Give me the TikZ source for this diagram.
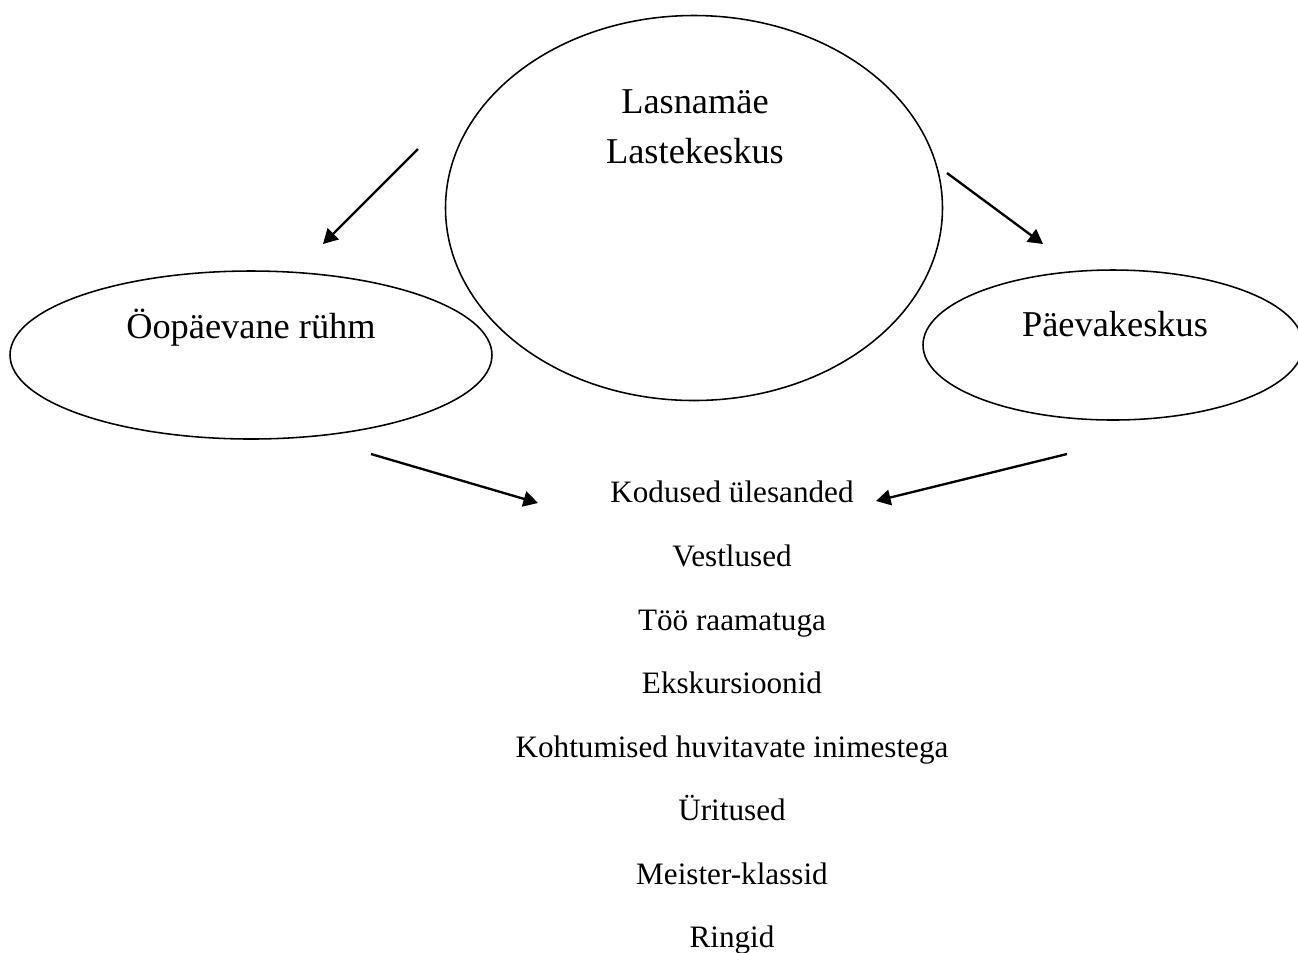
\documentclass[tikz,border=0pt]{standalone}
\usepackage{fontspec}
\setmainfont{Liberation Serif}
\usetikzlibrary{shapes.geometric,arrows.meta}
\begin{document}
\begin{tikzpicture}[x=0.385pt,y=-0.385pt,
  oval/.style={draw,ellipse,line width=0.6pt,inner sep=0pt},
  bigtext/.style={font=\fontsize{14}{17}\selectfont,anchor=base,inner sep=0pt},
  itemtext/.style={font=\fontsize{12}{14}\selectfont,anchor=base,inner sep=0pt},
  arr/.style={line width=0.9pt,-{Triangle[length=5.6pt,width=6pt]}}]
\useasboundingbox (0,0) rectangle (1298,952);
% ellipses
\node[oval,minimum width=497*0.385pt,minimum height=385*0.385pt] (lk) at (694,208) {};
\node[oval,minimum width=482*0.385pt,minimum height=168*0.385pt] (op) at (251,355) {};
\node[oval,minimum width=380*0.385pt,minimum height=150*0.385pt] (pk) at (1113,345) {};
% texts
\node[bigtext] (lk1) at (695,113) {Lasnamäe};
\node[bigtext] (lk2) at (695,163) {Lastekeskus};
\node[bigtext] (opt) at (251,338) {Öopäevane rühm};
\node[bigtext] (pkt) at (1115,336) {Päevakeskus};
\node[itemtext] (i1) at (732,502) {Kodused ülesanded};
\node[itemtext] (i2) at (732,566) {Vestlused};
\node[itemtext] (i3) at (732,630) {Töö raamatuga};
\node[itemtext] (i4) at (732,693) {Ekskursioonid};
\node[itemtext] (i5) at (732,757) {Kohtumised huvitavate inimestega};
\node[itemtext] (i6) at (732,820) {Üritused};
\node[itemtext] (i7) at (732,884) {Meister-klassid};
\node[itemtext] (i8) at (732,947) {Ringid};
% arrow end points
\coordinate (a1s) at (418,149);
\coordinate (a1e) at (323,244);
\coordinate (a2s) at (947,173);
\coordinate (a2e) at (1043,244);
\coordinate (a3s) at (371,454);
\coordinate (a3e) at (538,503);
\coordinate (a4s) at (1067,454);
\coordinate (a4e) at (876,501);
\draw[arr] (a1s) -- (a1e);
\draw[arr] (a2s) -- (a2e);
\draw[arr] (a3s) -- (a3e);
\draw[arr] (a4s) -- (a4e);
\end{tikzpicture}
\end{document}
